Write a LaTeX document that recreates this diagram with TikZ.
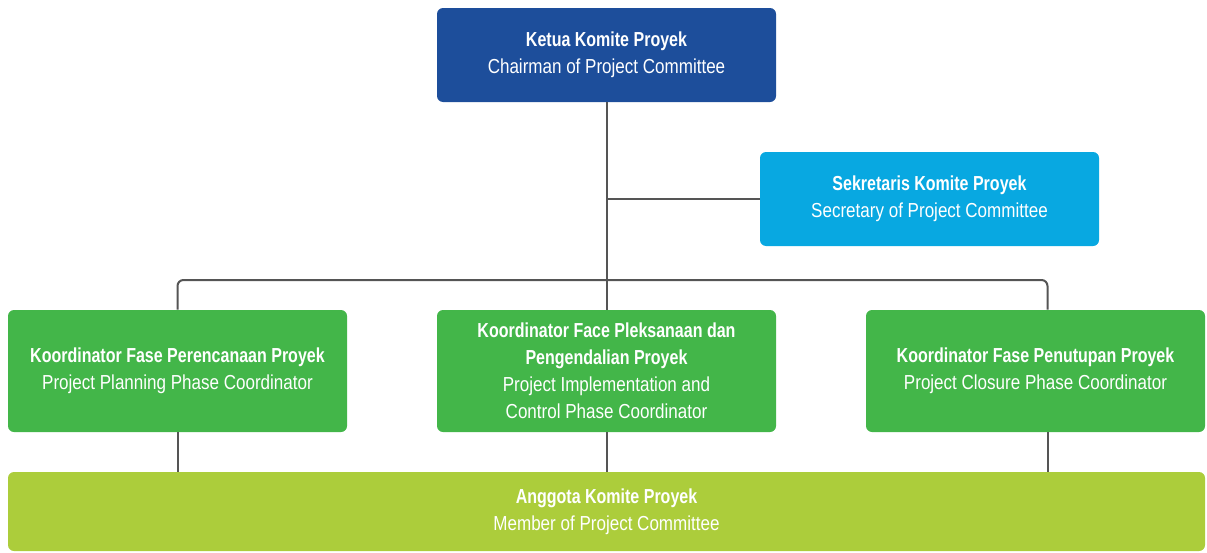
\documentclass[tikz,border=0pt]{standalone}
\usepackage{fontspec}
\setmainfont{Liberation Sans}[FakeStretch=0.84, BoldFeatures={FakeStretch=0.79}]
\usetikzlibrary{positioning, calc}

\definecolor{chairblue}{HTML}{1D4E9B}
\definecolor{secblue}{HTML}{08A8E1}
\definecolor{phasegreen}{HTML}{43B649}
\definecolor{memberlime}{HTML}{ACCD3B}
\definecolor{linegray}{HTML}{555555}

\begin{document}
\begin{tikzpicture}[
    x=0.75pt, y=-0.75pt,
    every node/.style={rectangle, rounded corners=4.5pt, inner sep=0pt, align=center,
        text=white, font=\fontsize{15.2}{20.25}\selectfont,
        execute at begin node={\rule{0pt}{16pt}}},
    role/.style={minimum width=254.25pt, minimum height=70.5pt},
    phase/.style={fill=phasegreen, minimum width=254.25pt, minimum height=91.5pt},
    link/.style={draw=linegray, line width=1.5pt},
]
\useasboundingbox (0,0) rectangle (1207,553);

\node[role, fill=chairblue] (chair) at (606.5,55)
    {\textbf{Ketua Komite Proyek}\\Chairman of Project Committee};
\node[role, fill=secblue] (secretary) at (929.5,199)
    {\textbf{Sekretaris Komite Proyek}\\Secretary of Project Committee};

\node[phase] (planning) at (177.5,371)
    {\textbf{Koordinator Fase Perencanaan Proyek}\\Project Planning Phase Coordinator};
\node[phase] (implement) at (606.5,371)
    {\textbf{Koordinator Face Pleksanaan dan}\\\textbf{Pengendalian Proyek}\\Project Implementation and\\Control Phase Coordinator};
\node[phase] (closure) at (1035.5,371)
    {\textbf{Koordinator Fase Penutupan Proyek}\\Project Closure Phase Coordinator};

\node[fill=memberlime, minimum width=897.75pt, minimum height=59.25pt] (member) at (606.5,511.5)
    {\textbf{Anggota Komite Proyek}\\Member of Project Committee};

% connectors
\coordinate (bus) at (606.5,280);
\coordinate (closurein) at ($(closure.north)+(12,0)$);
\draw[link] (chair.south) -- (implement.north);
\draw[link] (secretary.west) -- (secretary.west -| chair.south);
\draw[link, rounded corners=4.5pt] (planning.north) |- (bus) -| (closurein);
\draw[link] (planning.south) -- (planning.south |- member.north);
\draw[link] (implement.south) -- (member.north);
\draw[link] ($(closure.south)+(12,0)$) -- ($(closure.south |- member.north)+(12,0)$);
\end{tikzpicture}
\end{document}
